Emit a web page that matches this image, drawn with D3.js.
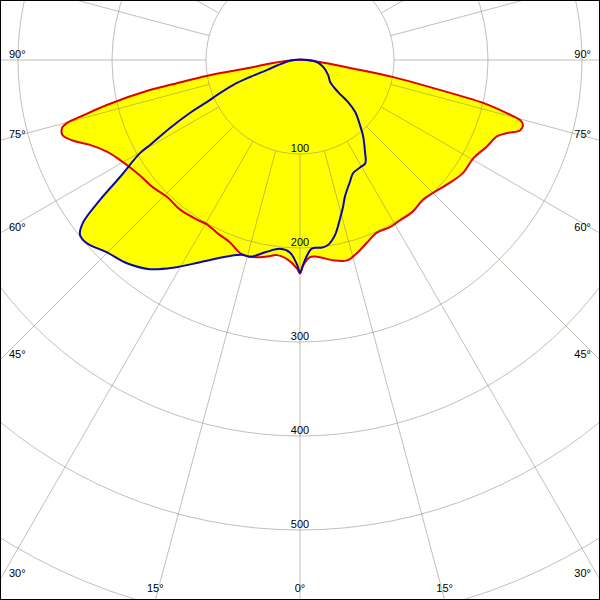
<!DOCTYPE html>
<html>
<head>
<meta charset="utf-8">
<script src="https://cdn.jsdelivr.net/npm/d3@7"></script>
<style>
  html, body { margin: 0; padding: 0; background: #fff; }
  svg { display: block; }
  text { font-family: "Liberation Sans", Arial, sans-serif; font-size: 11px; fill: #000; }
</style>
</head>
<body>
<svg id="chart" width="600" height="600"></svg>
<script>
// ---- data (angle from nadir in degrees, negative = left half; intensity) ----
const redAngles = [-90,-83.7,-81.2,-80.4,-79.2,-78.7,-76.9,-75.5,-75,-74.1,-72.5,-70.4,-68,-64.5,-60.9,-57.8,-54.3,-49.2,-44.2,-38.7,-32.8,-29.4,-25.6,-20.9,-17.3,-14.2,-9.5,-6.7,-3.4,-0.8,0,0.8,2.9,4.9,9.4,13.2,16.5,20.1,24,28.3,32,36.6,41.3,45,50.6,55.3,60.5,65.1,68.9,70.6,72.3,73.8,74.7,75.6,76.8,78.1,79.6,80.9,84.3,90];
const redValues = [5,29,54,100,138,163,211,242,255,263,265,256,241,227,219,214,210,207,203,204,202,201,204,208,215,216,212,209,213,222,227,219,210,210,216,219,214,207,201,202,201,201,198,200,206,211,212,219,225,234,246,247,243,227,200,145,101,54,21,5];

const blueAngles = [-90,-80,-73.1,-71.2,-69.5,-67.1,-66,-64.3,-62.4,-60.5,-59.8,-57,-55,-53.1,-51.5,-49.3,-45.2,-40.4,-35.7,-31.4,-26.3,-20.4,-16.3,-14.2,-9.8,-6,-3,-0.8,0,1.4,3.6,6.7,8.6,11.3,14,16.3,18.2,22.3,25.1,29.1,32.3,35.2,40,42.7,46.6,48.8,49.9,53.7,61.8,73.1,83.3,90];
const blueValues = [7,18,37,56,76,96,105,130,156,183,197,228,260,289,299,299,290,284,274,259,240,223,216,216,207,202,205,218,226,213,201,201,199,190,175,163,153,140,133,131,130,120,104,94,81,68,53,40,34,26,18,9];

const radialTicks = [100, 200, 300, 400, 500];
const gridCircles = [100, 200, 300, 400, 500, 600, 700];
const angleTicks = [90, 75, 60, 45, 30, 15, 0];

// ---- layout ----
const W = 600, H = 600, cx = 300, cy = 60;
const r = d3.scaleLinear().domain([0, 500]).range([0, 470]);
const ang = d => (180 - d) * Math.PI / 180; // nadir-down polar angle -> d3 radial angle

const svg = d3.select("#chart");
svg.append("rect").attr("width", W).attr("height", H).attr("fill", "#fff");
svg.append("clipPath").attr("id", "clip").append("rect").attr("width", W).attr("height", H);
const g = svg.append("g").attr("clip-path", "url(#clip)")
  .append("g").attr("transform", `translate(${cx},${cy})`);

const line = d3.lineRadial()
  .angle(d => ang(d[0]))
  .radius(d => r(d[1]))
  .curve(d3.curveCatmullRomClosed.alpha(0.5));

const red = redAngles.map((a, i) => [a, redValues[i]]);
const blue = blueAngles.map((a, i) => [a, blueValues[i]]);

// fills
g.append("path").attr("d", line(red)).attr("fill", "#ffff00").attr("stroke", "none");
g.append("path").attr("d", line(blue)).attr("fill", "#ffff00").attr("stroke", "none");

// grid
const grid = g.append("g").attr("stroke", "#8a8070").attr("stroke-opacity", 0.5).attr("fill", "none").attr("stroke-width", 1);
grid.selectAll("circle").data(gridCircles).join("circle").attr("r", d => r(d));
grid.selectAll("line").data(d3.range(0, 360, 15)).join("line")
  .attr("x1", d => d3.pointRadial(ang(d), r(100))[0])
  .attr("y1", d => d3.pointRadial(ang(d), r(100))[1])
  .attr("x2", d => d3.pointRadial(ang(d), 1200)[0])
  .attr("y2", d => d3.pointRadial(ang(d), 1200)[1]);

// outlines
g.append("path").attr("d", line(red)).attr("fill", "none").attr("stroke", "#e00000").attr("stroke-width", 2);
g.append("path").attr("d", line(blue)).attr("fill", "none").attr("stroke", "#0a0aa0").attr("stroke-width", 2);

// radial labels
g.selectAll("text.rl").data(radialTicks).join("text").attr("class", "rl")
  .attr("x", 0).attr("y", d => r(d) - 2).attr("text-anchor", "middle").text(d => d);

// angle labels at the frame edges
const lab = svg.append("g");
angleTicks.forEach(a => {
  const t = a * Math.PI / 180;
  const yEdge = a === 0 ? Infinity : cy + (W - cx) / Math.tan(t);
  if (yEdge < H) {
    lab.append("text").attr("x", 9).attr("y", yEdge - 2.5).text(a + "°");
    lab.append("text").attr("x", 591).attr("y", yEdge - 2.5).attr("text-anchor", "end").text(a + "°");
  } else {
    const dx = (H - cy) * Math.tan(t);
    const xs = a === 0 ? [cx] : [cx - dx, cx + dx];
    xs.forEach(x => lab.append("text").attr("x", x).attr("y", 592).attr("text-anchor", "middle").text(a + "°"));
  }
});

// frame
svg.append("rect").attr("x", 0).attr("y", 0).attr("width", W).attr("height", H)
  .attr("fill", "none").attr("stroke", "#000").attr("stroke-width", 2);
</script>
</body>
</html>
